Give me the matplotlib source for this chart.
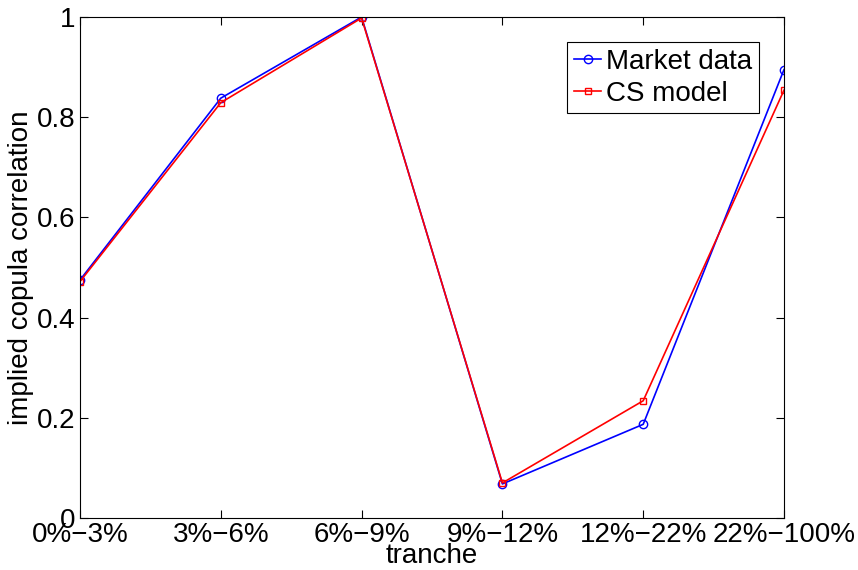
import numpy as np
import matplotlib.pyplot as plt

plt.rcParams['font.family'] = ['Liberation Sans', 'DejaVu Sans']

tranches = ['0%\u22123%', '3%\u22126%', '6%\u22129%', '9%\u221212%', '12%\u221222%', '22%\u2212100%']
market = [0.475, 0.838, 1.0, 0.068, 0.187, 0.895]
cs_model = [0.472, 0.829, 0.998, 0.070, 0.234, 0.854]

x = np.arange(1, len(tranches) + 1)

fig = plt.figure(figsize=(8.58, 5.7), dpi=100)
ax = fig.add_axes([80 / 858, 1 - 518 / 570, 704 / 858, 501 / 570])

ax.plot(x, market, color='blue', marker='o', markersize=6, markerfacecolor='none',
        markeredgewidth=1.0, linewidth=1.2, label='Market data')
ax.plot(x, cs_model, color='red', marker='s', markersize=4.5, markerfacecolor='none',
        markeredgewidth=1.0, linewidth=1.2, label='CS model')

ax.set_xlim(1, 6)
ax.set_ylim(0, 1)
ax.set_xticks(x)
ax.set_xticklabels(tranches)
ax.set_yticks([0, 0.2, 0.4, 0.6, 0.8, 1])
ax.set_yticklabels(['0', '0.2', '0.4', '0.6', '0.8', '1'])
ax.tick_params(direction='in', top=True, right=True, labelsize=20, length=6, pad=3)
for s in ax.spines.values():
    s.set_linewidth(0.8)

ax.set_xlabel('tranche', fontsize=20, labelpad=-4)
ax.set_ylabel('implied copula correlation', fontsize=20, labelpad=2)

leg = ax.legend(loc='upper right', bbox_to_anchor=(0.964, 0.95), fontsize=20,
                fancybox=False, edgecolor='black', framealpha=1,
                handlelength=1.0, handletextpad=0.15, borderpad=0.25,
                labelspacing=0.2, borderaxespad=0)
leg.get_frame().set_linewidth(0.8)

fig.savefig('out.png', dpi=100)
